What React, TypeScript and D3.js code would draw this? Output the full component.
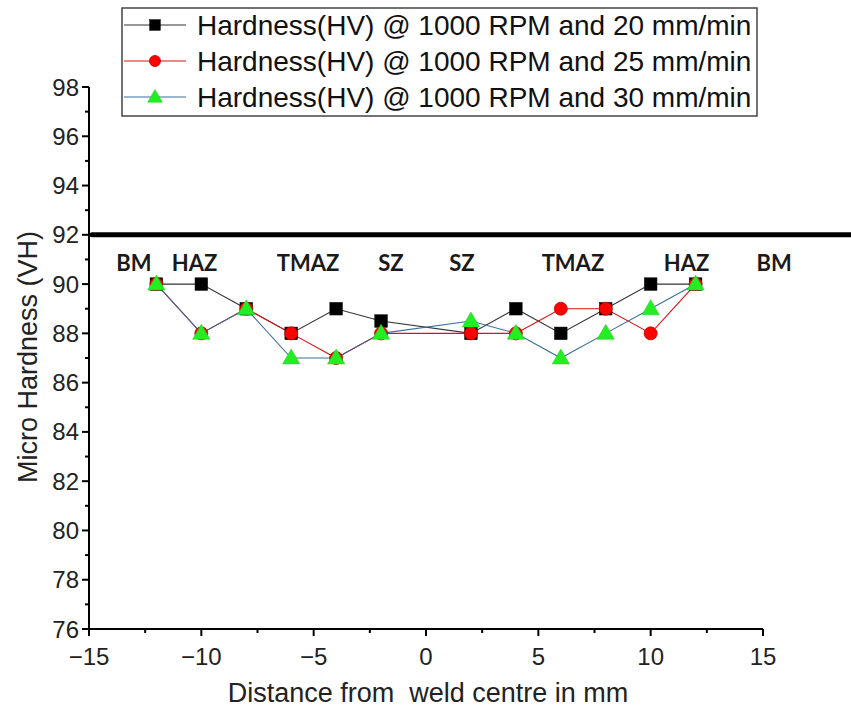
import React from "react";
import * as d3 from "d3";

const distances = [-12, -10, -8, -6, -4, -2, 2, 4, 6, 8, 10, 12];
const hv20 = [90, 90, 89, 88, 89, 88.5, 88, 89, 88, 89, 90, 90];
const hv25 = [90, 88, 89, 88, 87, 88, 88, 88, 89, 89, 88, 90];
const hv30 = [90, 88, 89, 87, 87, 88, 88.5, 88, 87, 88, 89, 90];
const seriesNames = [
  "Hardness(HV) @ 1000 RPM and 20 mm/min",
  "Hardness(HV) @ 1000 RPM and 25 mm/min",
  "Hardness(HV) @ 1000 RPM and 30 mm/min",
];
const zoneLabels = ["BM", "HAZ", "TMAZ", "SZ", "SZ", "TMAZ", "HAZ", "BM"];
const zoneX = [-13.0, -10.3, -5.25, -1.56, 1.6, 6.54, 11.6, 15.5];
const zoneY = 90.55;
const refLine = 92;
const xTicks = [-15, -10, -5, 0, 5, 10, 15];
const yTicks = [76, 78, 80, 82, 84, 86, 88, 90, 92, 94, 96, 98];

const W = 851;
const H = 713;
const FONT = "'Liberation Sans', Arial, sans-serif";

const x = d3.scaleLinear().domain([-15, 15]).range([89, 763]);
const y = d3.scaleLinear().domain([76, 98]).range([629, 87]);

type Kind = "square" | "circle" | "triangle";
const series: { name: string; values: number[]; line: string; fill: string; stroke: string; kind: Kind }[] = [
  { name: seriesNames[0], values: hv20, line: "#333333", fill: "#000000", stroke: "#000000", kind: "square" },
  { name: seriesNames[1], values: hv25, line: "#e01010", fill: "#ff0000", stroke: "#c00000", kind: "circle" },
  { name: seriesNames[2], values: hv30, line: "#3a6e98", fill: "#22ee22", stroke: "#22cc22", kind: "triangle" },
];

function Marker({ kind, cx, cy, fill, stroke, s = 1 }: { kind: Kind; cx: number; cy: number; fill: string; stroke: string; s?: number }) {
  if (kind === "square") {
    const h = 6.3 * s;
    return <rect x={cx - h} y={cy - h} width={2 * h} height={2 * h} fill={fill} stroke={stroke} strokeWidth={0.5} />;
  }
  if (kind === "circle") {
    return <circle cx={cx} cy={cy} r={6.5 * s} fill={fill} stroke={stroke} strokeWidth={0.8} />;
  }
  const sym = d3.symbol().type(d3.symbolTriangle).size(130 * s * s)();
  return <path d={sym || ""} transform={`translate(${cx},${cy + 1})`} fill={fill} stroke={stroke} strokeWidth={0.5} />;
}

export default function App() {
  const line = d3
    .line<[number, number]>()
    .x((d) => x(d[0]))
    .y((d) => y(d[1]));

  const yMinor = d3.range(77, 98, 2);
  const xMinor = d3.range(-12.5, 15, 5);

  return (
    <svg width={W} height={H} style={{ position: "absolute", left: 0, top: 0, background: "#fff" }} fontFamily={FONT}>
      <rect x={0} y={0} width={W} height={H} fill="#fff" />

      {/* reference line */}
      <line x1={x(-15) + 3} x2={W} y1={y(refLine)} y2={y(refLine)} stroke="#000" strokeWidth={5} strokeLinecap="round" />

      {/* axes */}
      <line x1={x(-15)} x2={x(-15)} y1={y(98)} y2={y(76)} stroke="#000" strokeWidth={2} />
      <line x1={x(-15)} x2={x(15)} y1={y(76)} y2={y(76)} stroke="#000" strokeWidth={2} />
      {yTicks.map((t) => (
        <g key={"yt" + t}>
          <line x1={x(-15) - 7} x2={x(-15)} y1={y(t)} y2={y(t)} stroke="#000" strokeWidth={2} />
          <text x={x(-15) - 10} y={y(t) + 8.5} textAnchor="end" fontSize={24} fill="#222">
            {t}
          </text>
        </g>
      ))}
      {yMinor.map((t) => (
        <line key={"ym" + t} x1={x(-15) - 4} x2={x(-15)} y1={y(t)} y2={y(t)} stroke="#000" strokeWidth={2} />
      ))}
      {xTicks.map((t) => (
        <g key={"xt" + t}>
          <line x1={x(t)} x2={x(t)} y1={y(76)} y2={y(76) + 7} stroke="#000" strokeWidth={2} />
          <text x={x(t)} y={y(76) + 36} textAnchor="middle" fontSize={24} fill="#222">
            {t < 0 ? "\u2212" + Math.abs(t) : t}
          </text>
        </g>
      ))}
      {xMinor.map((t) => (
        <line key={"xm" + t} x1={x(t)} x2={x(t)} y1={y(76)} y2={y(76) + 4} stroke="#000" strokeWidth={2} />
      ))}

      {/* axis titles */}
      <text x={428} y={702} textAnchor="middle" fontSize={27} fill="#222">
        Distance from{"\u00a0\u00a0"}weld centre in mm
      </text>
      <text transform={`translate(37,357) rotate(-90)`} textAnchor="middle" fontSize={27} fill="#222">
        Micro Hardness (VH)
      </text>

      {/* zone labels */}
      {zoneLabels.map((z, i) => (
        <text
          key={"z" + i}
          x={x(zoneX[i])}
          y={y(zoneY)}
          textAnchor="middle"
          fontSize={22}
          fontWeight="bold"
          fontFamily="Lato, 'Open Sans', sans-serif"
          fill="#1a1a1a"
        >
          {z}
        </text>
      ))}

      {/* series */}
      {series.map((s) => (
        <g key={s.name}>
          <path
            d={line(distances.map((d, i) => [d, s.values[i]] as [number, number])) || ""}
            fill="none"
            stroke={s.line}
            strokeWidth={1.1}
          />
        </g>
      ))}
      {series.map((s) => (
        <g key={s.name + "m"}>
          {distances.map((d, i) => (
            <Marker key={i} kind={s.kind} cx={x(d)} cy={y(s.values[i])} fill={s.fill} stroke={s.stroke} />
          ))}
        </g>
      ))}

      {/* legend */}
      <rect x={122} y={8} width={635} height={108} fill="#fff" stroke="#444" strokeWidth={1.5} />
      {series.map((s, i) => {
        const cy = 25 + i * 36;
        return (
          <g key={s.name + "lg"}>
            <line x1={124} x2={186} y1={cy} y2={cy} stroke={s.line} strokeWidth={1.1} />
            <Marker kind={s.kind} cx={155} cy={cy} fill={s.fill} stroke={s.stroke} s={0.85} />
            <text x={197} y={cy + 10} fontSize={28} fill="#111">
              {s.name}
            </text>
          </g>
        );
      })}
    </svg>
  );
}
